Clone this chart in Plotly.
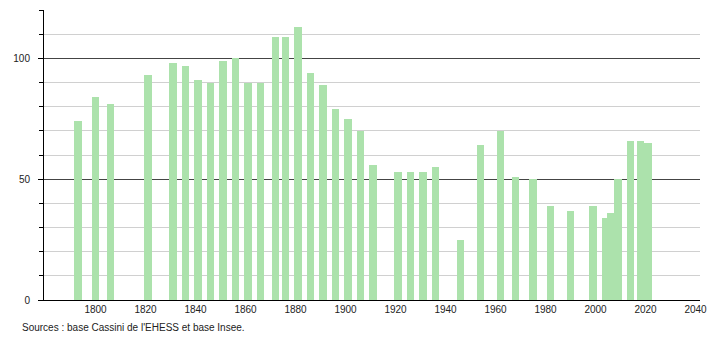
import plotly.graph_objects as go

years = [1793, 1800, 1806, 1821, 1831, 1836, 1841, 1846, 1851, 1856, 1861, 1866,
         1872, 1876, 1881, 1886, 1891, 1896, 1901, 1906, 1911, 1921, 1926, 1931,
         1936, 1946, 1954, 1962, 1968, 1975, 1982, 1990, 1999, 2004, 2006, 2009,
         2014, 2018, 2021]
population = [74, 84, 81, 93, 98, 97, 91, 90, 99, 100, 90, 90,
              109, 109, 113, 94, 89, 79, 75, 70, 56, 53, 53, 53,
              55, 25, 64, 70, 51, 50, 39, 37, 39, 34, 36, 50,
              66, 66, 65]
x_ticks = list(range(1800, 2041, 20))
y_ticks = [0, 50, 100]
source_text = "Sources : base Cassini de l'EHESS et base Insee."

fig = go.Figure()
fig.add_trace(go.Bar(
    x=years, y=population, width=3.1,
    marker=dict(color="rgb(172,226,172)", line=dict(width=0)),
    hoverinfo="x+y",
))

fig.update_layout(
    width=710, height=340,
    margin=dict(l=44, r=10, t=10, b=40, autoexpand=False),
    paper_bgcolor="white", plot_bgcolor="white",
    font=dict(family="Liberation Sans, Arial, sans-serif", size=10, color="#222"),
    showlegend=False,
    bargap=0,
    xaxis=dict(
        range=[1779.4, 2041.8], automargin=False,
        tickmode="array", tickvals=x_ticks, ticktext=[str(v) for v in x_ticks],
        showgrid=False, zeroline=False,
        showline=True, linecolor="black", linewidth=1,
        ticks="", tickfont=dict(size=10, color="#222"),
    ),
    yaxis=dict(
        range=[0, 120], automargin=False,
        tickmode="array", tickvals=y_ticks, ticktext=[str(v) for v in y_ticks],
        showgrid=True, gridcolor="#444", gridwidth=1,
        zeroline=False,
        showline=True, linecolor="black", linewidth=1,
        ticks="outside", ticklen=5, tickcolor="black",
        ticklabelstandoff=6,
        tickfont=dict(size=10, color="#222"),
        minor=dict(dtick=10, tick0=0, showgrid=True, gridcolor="#d0d0d0",
                   ticks="outside", ticklen=4, tickcolor="black"),
    ),
    annotations=[dict(
        text=source_text, xref="paper", yref="paper",
        x=-24/656, y=-27/290, xanchor="left", yanchor="middle",
        showarrow=False, font=dict(size=10, color="#222"),
    )],
)

fig.write_html("out.html")
